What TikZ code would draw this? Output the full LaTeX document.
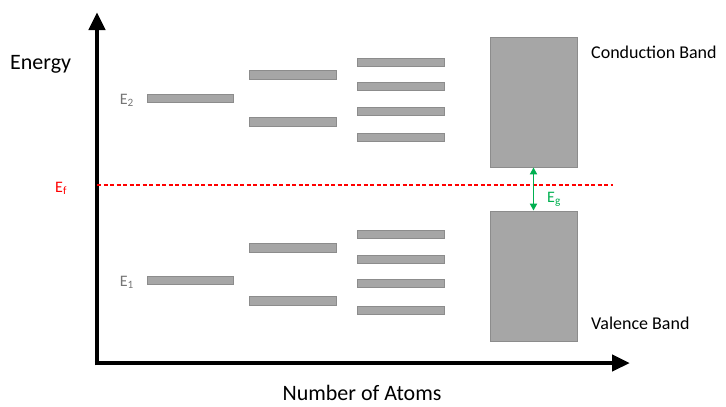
\documentclass[tikz,border=0pt]{standalone}
\usepackage{fontspec}
\setmainfont{Carlito}
\usetikzlibrary{arrows.meta}
\definecolor{barfill}{HTML}{A6A6A6}
\definecolor{barline}{HTML}{8C8C8C}
\definecolor{lbl}{HTML}{757575}
\definecolor{fermi}{HTML}{FF0000}
\definecolor{gap}{HTML}{00B050}
\begin{document}
\begin{tikzpicture}[x=1pt,y=-1pt,
  lvl/.style={draw=barline,fill=barfill,line width=0.8pt},
  axis/.style={line width=4.5pt,-{Triangle[length=18pt,width=16pt]}},
  big/.style={font=\fontsize{22}{26}\selectfont,inner sep=0pt},
  mid/.style={font=\fontsize{18}{21}\selectfont,inner sep=0pt},
  sm/.style={font=\fontsize{16}{19}\selectfont,inner sep=0pt}]
\useasboundingbox (0,0) rectangle (726,407);
\coordinate (Ytip) at (97,12);
\coordinate (Xtip) at (630,363);
\draw[axis] (97,365.25) -- (Ytip);
\draw[axis] (94.75,363) -- (Xtip);
% column 1
\draw[lvl] (147,94) rectangle (233,102);
\draw[lvl] (147,276) rectangle (233,284);
% column 2
\foreach \y in {70,117,243,296} \draw[lvl] (249,\y) rectangle (336,\y+9);
% column 3
\foreach \y in {58,82,107,133,230,255,279,306} \draw[lvl] (357,\y) rectangle (444,\y+8.5);
% bands
\node[lvl,minimum width=87pt,minimum height=130pt,inner sep=0pt] (cb) at (533.5,102) {};
\node[lvl,minimum width=87pt,minimum height=130pt,inner sep=0pt] (vb) at (533.5,276) {};
% fermi
\coordinate (fl) at (97,185);
\coordinate (fr) at (613,185);
\draw[color=red,line width=1.2pt,dash pattern=on 4pt off 2.5pt] (fl) -- (fr);
% gap arrow
\draw[draw=gap,line width=1.8pt,{Triangle[length=7pt,width=7pt]}-{Triangle[length=7pt,width=7pt]}] (cb.south) -- (vb.north);
% labels
\node[big,anchor=base west] (en) at (10,69) {Energy};
\node[big,anchor=base] (na) at (362,400) {Number of Atoms};
\node[mid,anchor=base west] (cbl) at (591,58) {Conduction Band};
\node[mid,anchor=base west] (vbl) at (591,329) {Valence Band};
\node[sm,text=lbl,anchor=base east] (e2) at (134,104) {E\textsubscript{2}};
\node[sm,text=lbl,anchor=base east] (e1) at (134,286) {E\textsubscript{1}};
\node[sm,text=fermi,anchor=base west] (ef) at (55,192) {E\textsubscript{f}};
\node[sm,text=gap,anchor=base west] (eg) at (547,202) {E\textsubscript{g}};
\end{tikzpicture}
\end{document}
